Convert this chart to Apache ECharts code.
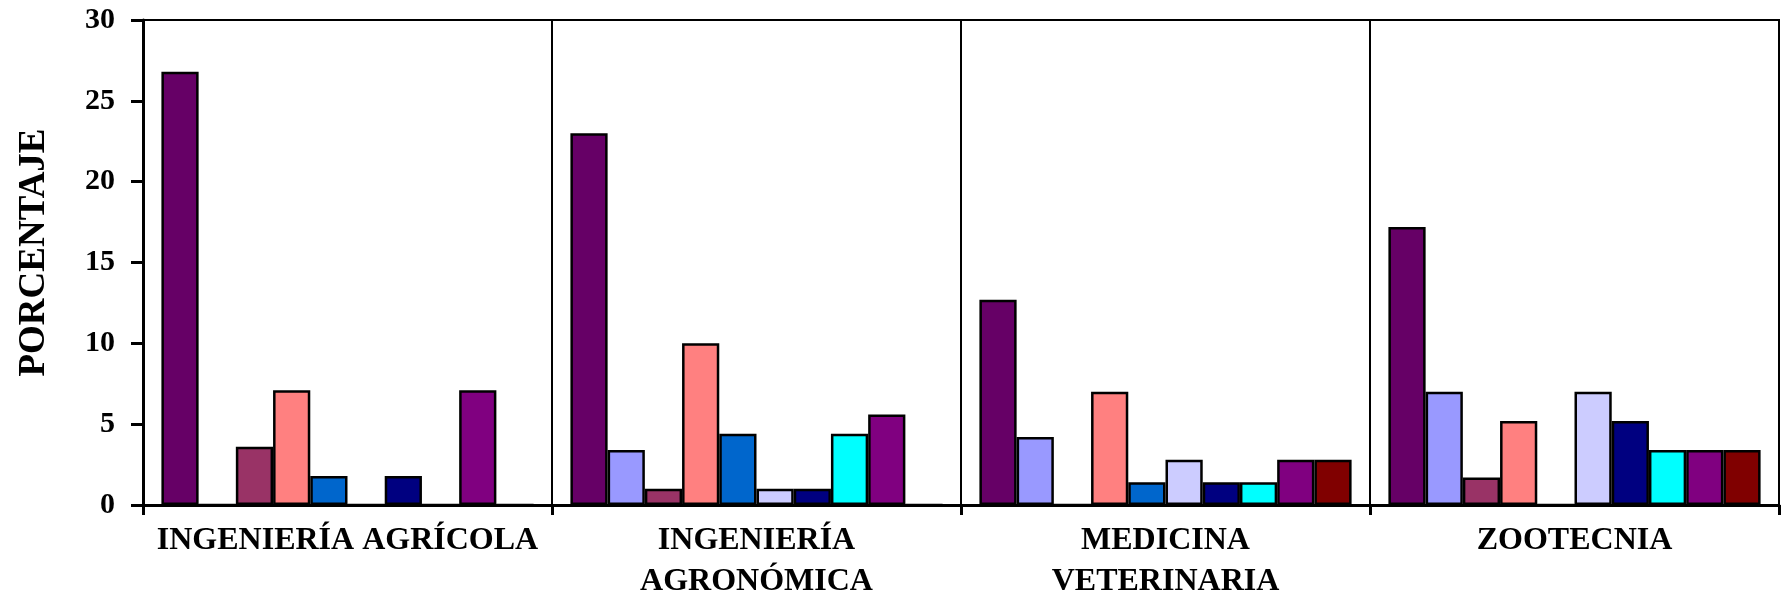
<!DOCTYPE html>
<html>
<head>
<meta charset="utf-8">
<script src="https://cdn.jsdelivr.net/npm/echarts@6/dist/echarts.min.js"></script>
<style>
html,body{margin:0;padding:0;background:#fff;}
#chart{width:1784px;height:598px;}
</style>
</head>
<body>
<div id="chart"></div>
<script>
const categories = ['INGENIERÍA AGRÍCOLA', 'INGENIERÍA\nAGRONÓMICA', 'MEDICINA\nVETERINARIA', 'ZOOTECNIA'];
const yTicks = [0, 5, 10, 15, 20, 25, 30];
const seriesNames = ['Serie 1','Serie 2','Serie 3','Serie 4','Serie 5','Serie 6','Serie 7','Serie 8','Serie 9','Serie 10'];
const s1  = [26.8, 23.0, 12.7, 17.2];
const s2  = [0,    3.4,  4.2,  7.0];
const s3  = [3.6,  1.0,  0,    1.7];
const s4  = [7.1,  10.0, 7.0,  5.2];
const s5  = [1.8,  4.4,  1.4,  0];
const s6  = [0,    1.0,  2.8,  7.0];
const s7  = [1.8,  1.0,  1.4,  5.2];
const s8  = [0,    4.4,  1.4,  3.4];
const s9  = [7.1,  5.6,  2.8,  3.4];
const s10 = [0,    0,    2.8,  3.4];
const seriesValues = [s1, s2, s3, s4, s5, s6, s7, s8, s9, s10];
const colors = ['#660066','#9999FF','#993366','#FF8080','#0066CC','#CCCCFF','#000080','#00FFFF','#800080','#800000'];

const font = 'Liberation Serif';
const chart = echarts.init(document.getElementById('chart'), null, {renderer: 'canvas'});
chart.setOption({
  animation: false,
  backgroundColor: '#fff',
  grid: {left: 143, right: 5, top: 20, bottom: 93, show: true, borderColor: '#000', borderWidth: 2, backgroundColor: 'transparent', containLabel: false, outerBoundsMode: 'none'},
  xAxis: {
    type: 'category',
    data: categories,
    axisLine: {lineStyle: {color: '#000', width: 3}},
    axisTick: {show: true, length: 10, lineStyle: {color: '#000', width: 3}},
    splitLine: {show: true, lineStyle: {color: '#000', width: 2}},
    axisLabel: {color: '#000', fontFamily: font, fontWeight: 'bold', fontSize: 32, lineHeight: 41, margin: 15, interval: 0}
  },
  yAxis: {
    type: 'value',
    min: yTicks[0], max: yTicks[yTicks.length - 1], interval: yTicks[1] - yTicks[0],
    name: 'PORCENTAJE',
    nameLocation: 'middle',
    nameGap: 90,
    nameRotate: 90,
    nameTextStyle: {color: '#000', fontFamily: font, fontWeight: 'bold', fontSize: 37, padding: [0, 0, 0, 20]},
    axisLine: {show: true, lineStyle: {color: '#000', width: 3}},
    axisTick: {show: true, length: 12, lineStyle: {color: '#000', width: 3}},
    splitLine: {show: false},
    axisLabel: {color: '#000', fontFamily: font, fontWeight: 'bold', fontSize: 30, margin: 28}
  },
  series: seriesValues.map((vals, i) => ({
    name: seriesNames[i],
    type: 'bar',
    data: vals,
    barGap: 0,
    barCategoryGap: '9%',
    itemStyle: {color: colors[i], borderColor: '#000', borderWidth: 2.5}
  }))
});
</script>
</body>
</html>
